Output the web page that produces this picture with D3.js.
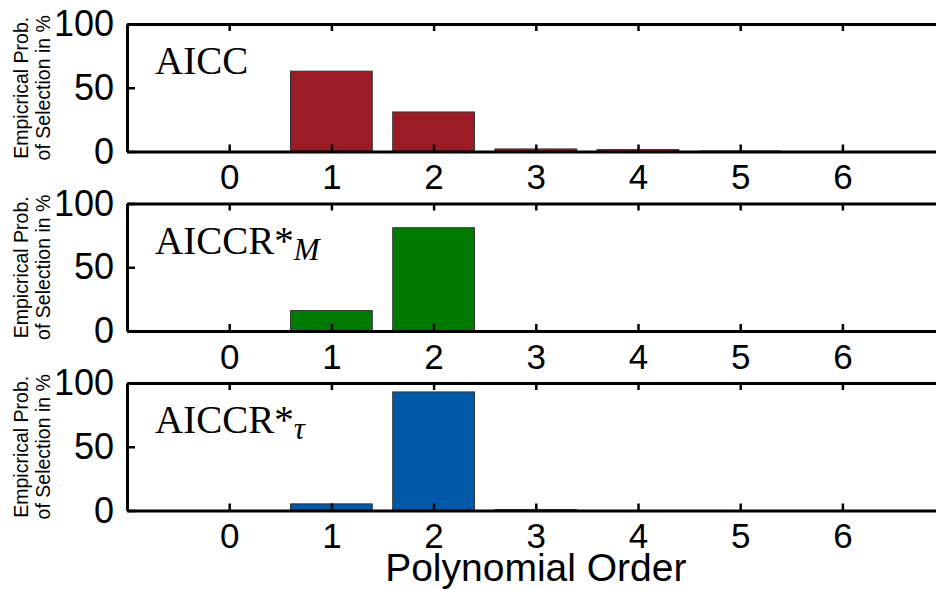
<!DOCTYPE html>
<html>
<head>
<meta charset="utf-8">
<script src="https://cdn.jsdelivr.net/npm/d3@7"></script>
<style>
  body { margin: 0; background: #fff; }
  svg { display: block; }
</style>
</head>
<body>
<script>
// DATA
var orders = [0, 1, 2, 3, 4, 5, 6];
var aiccValues = [0, 63, 31, 2, 1.5, 0.4, 0];
var aiccrMValues = [0, 16, 81, 0, 0, 0, 0];
var aiccrTauValues = [0, 5.2, 93, 0.7, 0, 0, 0];
var yTicks = [0, 50, 100];
var panelNames = ["AICC", "AICCR", "AICCR"];
var panelSubs = ["", "M", "\u03c4"];
var panelColors = ["#9b1c25", "#007a00", "#0058a8"];
var series = [aiccValues, aiccrMValues, aiccrTauValues];

var width = 936, height = 589;
var left = 127, right = 944.6;
var panelTop = 24, panelStep = 179.5, panelH = 127.5;
var sans = "'Liberation Sans', Arial, Helvetica, sans-serif";
var serif = "'Liberation Serif', 'Times New Roman', serif";

var svg = d3.select("body").append("svg")
    .attr("width", width)
    .attr("height", height);

var x = d3.scaleLinear().domain([-1, 7]).range([left, right]);
var barW = x(0.4) - x(-0.4);

series.forEach(function(vals, p) {
    var top = panelTop + p * panelStep;
    var y = d3.scaleLinear().domain([0, 100]).range([top + panelH, top]);
    var g = svg.append("g");

    // BARS
    g.selectAll(".bar")
        .data(orders.filter(function(d) { return vals[d] > 0; }))
        .enter().append("rect")
        .attr("class", "bar")
        .attr("x", function(d) { return x(d) - barW / 2; })
        .attr("y", function(d) { return y(vals[d]); })
        .attr("width", barW)
        .attr("height", function(d) { return y(0) - y(vals[d]); })
        .attr("fill", panelColors[p])
        .attr("stroke", "#333")
        .attr("stroke-width", 1);

    // BOTTOM AXIS (ticks inward)
    var bottom = g.append("g")
        .attr("transform", "translate(0," + y(0) + ")")
        .call(d3.axisBottom(x).tickValues(orders).tickSizeInner(-7).tickSizeOuter(0).tickPadding(13));
    bottom.select(".domain").attr("stroke-width", 3).attr("stroke", "#000");
    bottom.selectAll(".tick line").attr("stroke-width", 2.5);
    bottom.selectAll(".tick text")
        .attr("font-family", sans)
        .attr("font-size", "35px")
        .attr("fill", "#000");

    // TOP AXIS
    var topAx = g.append("g")
        .attr("transform", "translate(0," + y(100) + ")")
        .call(d3.axisTop(x).tickValues(orders).tickSizeInner(-7).tickSizeOuter(0).tickFormat(""));
    topAx.select(".domain").attr("stroke-width", 3);
    topAx.selectAll(".tick line").attr("stroke-width", 2.5);

    // LEFT AXIS
    var leftAx = g.append("g")
        .attr("transform", "translate(" + left + ",0)")
        .call(d3.axisLeft(y).tickValues(yTicks).tickSizeInner(-8).tickSizeOuter(0).tickPadding(13));
    leftAx.select(".domain").attr("stroke-width", 3);
    leftAx.selectAll(".tick line").attr("stroke-width", 2.5);
    leftAx.selectAll(".tick text")
        .attr("font-family", sans)
        .attr("font-size", "36px")
        .attr("fill", "#000");

    // RIGHT AXIS (mostly off screen)
    var rightAx = g.append("g")
        .attr("transform", "translate(" + right + ",0)")
        .call(d3.axisRight(y).tickValues(yTicks).tickSizeInner(-8).tickSizeOuter(0).tickFormat(""));
    rightAx.select(".domain").attr("stroke-width", 3);
    rightAx.selectAll(".tick line").attr("stroke-width", 2.5);

    // PANEL LABEL
    var lbl = g.append("text")
        .attr("x", 155)
        .attr("y", top + 50)
        .attr("font-family", serif)
        .attr("font-size", "39px")
        .attr("fill", "#000")
        .text(panelNames[p]);
    if (panelSubs[p] !== "") {
        lbl.append("tspan").text("*");
        lbl.append("tspan")
            .attr("dy", 6)
            .attr("font-size", "31px")
            .attr("font-style", "italic")
            .text(panelSubs[p]);
    }

    // Y-AXIS LABEL
    var cy = top + panelH / 2;
    g.append("text")
        .attr("transform", "translate(28," + cy + ") rotate(-90)")
        .attr("text-anchor", "middle")
        .attr("font-family", sans)
        .attr("font-size", "19.5px")
        .text("Empicrical Prob.");
    g.append("text")
        .attr("transform", "translate(50," + cy + ") rotate(-90)")
        .attr("text-anchor", "middle")
        .attr("font-family", sans)
        .attr("font-size", "19.5px")
        .text("of Selection in %");
});

// X-AXIS LABEL
svg.append("text")
    .attr("x", (left + right) / 2)
    .attr("y", 581)
    .attr("text-anchor", "middle")
    .attr("font-family", sans)
    .attr("font-size", "39px")
    .text("Polynomial Order");
</script>
</body>
</html>
